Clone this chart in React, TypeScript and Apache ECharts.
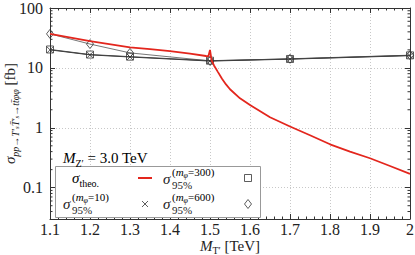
import React, { useEffect, useRef } from 'react';
import * as echarts from 'echarts';

// ---- data ----
const massPoints = [1.1, 1.2, 1.3, 1.5, 1.7, 2.0];
const sigma95m10 = [20, 16.5, 15.2, 13.0, 14.0, 16.0];
const sigma95m300 = [20.3, 16.7, 15.4, 13.2, 14.1, 16.2];
const sigma95m600 = [37, 25, 17.8, 13.1, 14.2, 16.3];

const theoMass = [1.1, 1.2, 1.3, 1.35, 1.4, 1.45, 1.49, 1.496, 1.5, 1.504, 1.51, 1.52, 1.53, 1.54, 1.55, 1.575, 1.6, 1.65, 1.7, 1.75, 1.8, 1.85, 1.9, 1.95, 2.0];
const theoSigma = [37, 28, 22, 20.5, 19, 17.3, 15.8, 15.6, 20, 13.4, 11, 8.5, 6.6, 5.3, 4.4, 3.1, 2.4, 1.5, 1.05, 0.75, 0.53, 0.4, 0.31, 0.23, 0.17];

const xTickLabels = ['1.1', '1.2', '1.3', '1.4', '1.5', '1.6', '1.7', '1.8', '1.9', '2'];
const yTickLabels = ['0.1', '1', '10', '100'];
const yMinorTicks = [
  0.04, 0.05, 0.06, 0.07, 0.08, 0.09,
  0.2, 0.3, 0.4, 0.5, 0.6, 0.7, 0.8, 0.9,
  2, 3, 4, 5, 6, 7, 8, 9,
  20, 30, 40, 50, 60, 70, 80, 90,
];

const SERIF = "'Liberation Serif', 'DejaVu Serif', serif";
const INK = '#222';
const RED = '#e3261d';

const baseRich: any = {
  m: { fontFamily: SERIF, fontSize: 15, color: INK, lineHeight: 20, verticalAlign: 'middle' },
  i: { fontFamily: SERIF, fontSize: 15, color: INK, lineHeight: 20, verticalAlign: 'middle', fontStyle: 'italic' },
  s: { fontFamily: SERIF, fontSize: 10, color: INK, lineHeight: 12, verticalAlign: 'bottom' },
  si: { fontFamily: SERIF, fontSize: 10, color: INK, lineHeight: 12, verticalAlign: 'bottom', fontStyle: 'italic' },
  ss: { fontFamily: SERIF, fontSize: 7, color: INK, lineHeight: 8, verticalAlign: 'bottom', fontStyle: 'italic' },
};

const xNameRich: any = {
  m: { fontFamily: SERIF, fontSize: 15, color: INK, lineHeight: 15, verticalAlign: 'top' },
  i: { fontFamily: SERIF, fontSize: 15, color: INK, lineHeight: 15, verticalAlign: 'top', fontStyle: 'italic' },
  s: { fontFamily: SERIF, fontSize: 10, color: INK, lineHeight: 10, verticalAlign: 'top', padding: [7, 0, 0, 0] },
};

const smallRich: any = {
  p: { fontFamily: SERIF, fontSize: 11, color: INK, lineHeight: 14, verticalAlign: 'middle' },
  pi: { fontFamily: SERIF, fontSize: 11, color: INK, lineHeight: 14, verticalAlign: 'middle', fontStyle: 'italic' },
  ps: { fontFamily: SERIF, fontSize: 8, color: INK, lineHeight: 8, verticalAlign: 'bottom', fontStyle: 'italic' },
};

const LZ = 20;

function sigmaLabel(x: number, y: number, mass: string) {
  return [
    { type: 'text', z: LZ, x, y, style: { text: 'σ', font: `italic 15px ${SERIF}`, fill: INK, verticalAlign: 'middle' } },
    {
      type: 'text', z: LZ, x: x + 9, y: y - 7,
      style: { text: `{p|(}{pi|m}{ps|φ}{p|=${mass})}`, rich: smallRich, verticalAlign: 'middle' },
    },
    { type: 'text', z: LZ, x: x + 9, y: y + 6, style: { text: '95%', font: `11px ${SERIF}`, fill: INK, verticalAlign: 'middle' } },
  ];
}

export default function App() {
  const ref = useRef<HTMLDivElement>(null);
  useEffect(() => {
    if (!ref.current) return;
    const chart = echarts.init(ref.current, null, { renderer: 'svg' });
    const axisColor = '#333';
    const tickStyle = { color: axisColor, width: 1 };
    const labelStyle = { fontFamily: SERIF, fontSize: 16, color: INK };
    const option: any = {
      animation: false,
      backgroundColor: '#fff',
      grid: { left: 50, right: 5, top: 8, bottom: 36, containLabel: false, outerBoundsMode: 'none' },
      xAxis: [
        {
          type: 'value', min: 1.1, max: 2.0, interval: 0.1,
          axisLine: { show: true, lineStyle: { color: axisColor, width: 1 } },
          axisTick: { show: true, inside: true, length: 5, lineStyle: tickStyle },
          minorTick: { show: true, splitNumber: 5, length: 2.5, lineStyle: tickStyle },
          axisLabel: {
            ...labelStyle, margin: 3, lineHeight: 14,
            formatter: (v: number) => xTickLabels[Math.round((v - 1.1) * 10)] ?? '',
          },
          splitLine: { show: true, lineStyle: { color: '#c8c8c8', type: [1, 2], width: 1 } },
          name: '{i|M}{s|T′}{m| [TeV]}',
          nameLocation: 'middle', nameGap: 19, nameMoveOverlap: false,
          nameTextStyle: { rich: xNameRich },
        },
        {
          type: 'value', min: 1.1, max: 2.0, interval: 0.1, position: 'top',
          axisLine: { show: true, lineStyle: { color: axisColor, width: 1 } },
          axisTick: { show: true, inside: true, length: 5, lineStyle: tickStyle },
          minorTick: { show: true, splitNumber: 5, length: 2.5, lineStyle: tickStyle },
          axisLabel: { show: false },
          splitLine: { show: false },
        },
      ],
      yAxis: [
        {
          type: 'log', logBase: 10, min: 0.03, max: 100,
          axisLine: { show: true, lineStyle: { color: axisColor, width: 1 } },
          axisTick: { show: true, inside: true, length: 5, lineStyle: tickStyle },
          axisLabel: {
            ...labelStyle, margin: 7, showMinLabel: false,
            formatter: (v: number) => {
              const k = Math.round(Math.log10(v)) + 1;
              return yTickLabels[k] ?? '';
            },
          },
          splitLine: { show: true, lineStyle: { color: '#c8c8c8', type: [1, 2], width: 1 } },
          name: '{i|σ}{si|pp→T′}{ss|s}{si|T̄′}{ss|s}{si|→tt̄φφ}{m| [fb]}',
          nameLocation: 'middle', nameGap: 30, nameRotate: 90, nameMoveOverlap: false,
          nameTextStyle: { rich: baseRich },
        },
        {
          type: 'log', logBase: 10, min: 0.03, max: 100, position: 'right',
          axisLine: { show: true, lineStyle: { color: axisColor, width: 1 } },
          axisTick: { show: true, inside: true, length: 5, lineStyle: tickStyle },
          axisLabel: { show: false },
          splitLine: { show: false },
        },
      ],
      series: [
        {
          type: 'custom', coordinateSystem: 'cartesian2d', silent: true, clip: false,
          data: yMinorTicks.map((v) => [1.1, v]),
          renderItem: (params: any, api: any) => {
            const v = api.value(1);
            const l = api.coord([1.1, v]);
            const r = api.coord([2.0, v]);
            return {
              type: 'group',
              children: [
                { type: 'line', shape: { x1: l[0], y1: l[1], x2: l[0] + 2.5, y2: l[1] }, style: { stroke: axisColor, lineWidth: 1 } },
                { type: 'line', shape: { x1: r[0] - 2.5, y1: r[1], x2: r[0], y2: r[1] }, style: { stroke: axisColor, lineWidth: 1 } },
              ],
            };
          },
        },
        {
          type: 'line', name: 'σ95 (mφ=600)',
          data: massPoints.map((x, i) => [x, sigma95m600[i]]),
          symbol: 'diamond', symbolSize: [7, 9],
          lineStyle: { color: '#777', width: 1 },
          itemStyle: { color: 'transparent', borderColor: '#333', borderWidth: 0.8 },
          z: 2,
        },
        {
          type: 'line', name: 'σ95 (mφ=10)',
          data: massPoints.map((x, i) => [x, sigma95m10[i]]),
          symbol: 'path://M0,0L10,10M10,0L0,10', symbolSize: 6,
          lineStyle: { color: '#333', width: 1 },
          itemStyle: { color: 'transparent', borderColor: '#333', borderWidth: 0.8 },
          z: 2,
        },
        {
          type: 'line', name: 'σ95 (mφ=300)',
          data: massPoints.map((x, i) => [x, sigma95m300[i]]),
          symbol: 'rect', symbolSize: 7,
          lineStyle: { color: '#444', width: 1 },
          itemStyle: { color: 'transparent', borderColor: '#333', borderWidth: 0.8 },
          z: 2,
        },
        {
          type: 'line', name: 'σ theo.',
          data: theoMass.map((x, i) => [x, theoSigma[i]]),
          showSymbol: false, symbol: 'none',
          lineStyle: { color: RED, width: 1.8 },
          itemStyle: { color: RED },
          z: 3,
        },
      ],
      graphic: [
        {
          type: 'text', x: 63, y: 158, z: LZ,
          style: { text: '{i|M}{s|Z′}{m| = 3.0 TeV}', rich: baseRich, verticalAlign: 'middle' },
        },
        {
          type: 'rect', shape: { x: 55.5, y: 166.5, width: 205, height: 51 },
          style: { fill: '#fff', stroke: '#999', lineWidth: 1 }, z: 10,
        },
        { type: 'text', z: LZ, x: 72, y: 178, style: { text: '{i|σ}{s|theo.}', rich: baseRich, verticalAlign: 'middle' } },
        { type: 'line', z: LZ, shape: { x1: 138, y1: 178, x2: 152, y2: 178 }, style: { stroke: RED, lineWidth: 2 } },
        ...sigmaLabel(163, 179, '300'),
        { type: 'rect', z: LZ, shape: { x: 244.5, y: 174.5, width: 7, height: 7 }, style: { fill: 'none', stroke: '#333', lineWidth: 0.8 } },
        ...sigmaLabel(63, 204, '10'),
        { type: 'line', z: LZ, shape: { x1: 142, y1: 201, x2: 148, y2: 207 }, style: { stroke: '#333', lineWidth: 0.8 } },
        { type: 'line', z: LZ, shape: { x1: 148, y1: 201, x2: 142, y2: 207 }, style: { stroke: '#333', lineWidth: 0.8 } },
        ...sigmaLabel(163, 204, '600'),
        { type: 'polygon', z: LZ, shape: { points: [[248, 199.5], [251.5, 204], [248, 208.5], [244.5, 204]] }, style: { fill: 'none', stroke: '#333', lineWidth: 0.8 } },
      ],
    };
    chart.setOption(option);
    return () => chart.dispose();
  }, []);
  return <div ref={ref} style={{ position: 'fixed', left: 0, top: 0, width: 415, height: 255 }} />;
}
